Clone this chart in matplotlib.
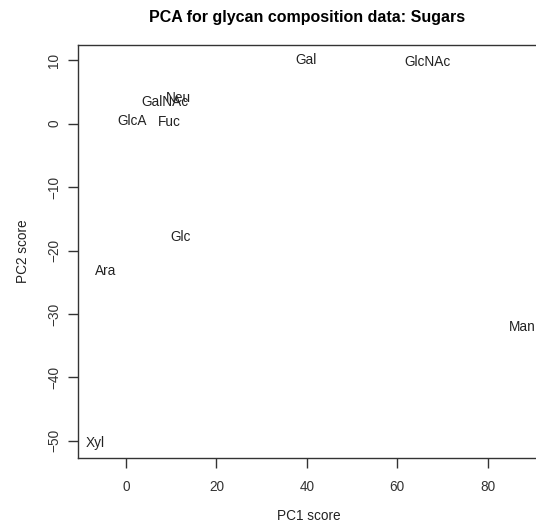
import matplotlib
matplotlib.use("Agg")
import matplotlib.pyplot as plt
import numpy as np

plt.rcParams['font.family'] = ['Liberation Sans', 'DejaVu Sans']

# PCA scores of the sugars
sugars = ['Gal', 'GlcNAc', 'GalNAc', 'Neu', 'GlcA', 'Fuc', 'Glc', 'Ara', 'Man', 'Xyl']
pc1 = np.array([39.9, 66.7, 8.7, 11.7, 1.4, 9.5, 12.0, -4.5, 87.6, -6.9])
pc2 = np.array([10.0, 9.7, 3.5, 4.1, 0.4, 0.3, -17.8, -23.3, -32.1, -50.3])
x_ticks = [0, 20, 40, 60, 80]
y_ticks = [10, 0, -10, -20, -30, -40, -50]

fig = plt.figure(figsize=(5.36, 5.27), dpi=100)
ax = fig.add_axes([0.145, 0.131, 0.8606, 0.7836])

for name, x, y in zip(sugars, pc1, pc2):
    ax.text(x, y, name, ha='center', va='center', fontsize=9.8, color='#222222')

# R style 4% padding around the data
xr = pc1.max() - pc1.min()
yr = pc2.max() - pc2.min()
ax.set_xlim(pc1.min() - 0.04 * xr, pc1.max() + 0.04 * xr)
ax.set_ylim(pc2.min() - 0.04 * yr, pc2.max() + 0.04 * yr)

ax.set_xticks(x_ticks)
ax.set_yticks(y_ticks)
ax.tick_params(axis='x', length=7, width=1, pad=9, labelsize=9.8, colors='#333333')
ax.tick_params(axis='y', length=7, width=1, pad=5, labelsize=9.8, colors='#333333')
for lab in ax.get_yticklabels():
    lab.set_rotation(90)
    lab.set_va('center')
for sp in ax.spines.values():
    sp.set_linewidth(1)
    sp.set_color('#333333')

ax.set_xlabel('PC1 score', fontsize=9.8, labelpad=11, color='#222222')
ax.set_ylabel('PC2 score', fontsize=9.8, labelpad=12, color='#222222')
fig.text(0.572, 0.966, 'PCA for glycan composition data: Sugars', ha='center', va='center',
         fontsize=11.5, fontweight='bold')

fig.savefig('out.png', dpi=100)
